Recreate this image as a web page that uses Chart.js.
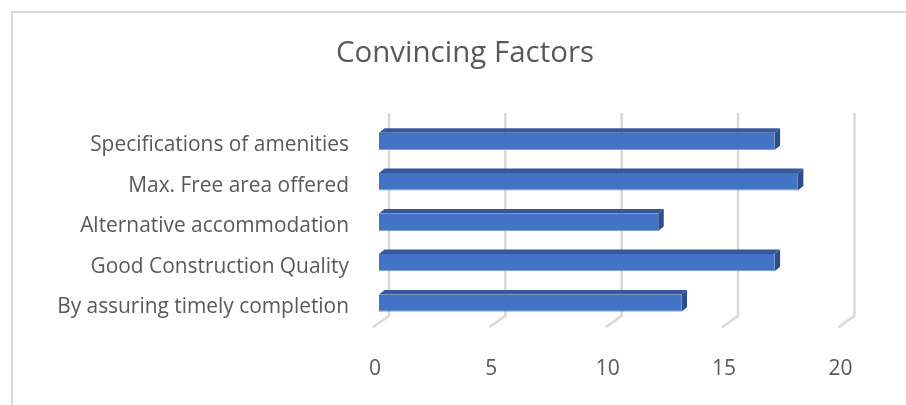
<!DOCTYPE html>
<html>
<head>
<meta charset="utf-8">
<script src="https://cdn.jsdelivr.net/npm/chart.js@4.4.1/dist/chart.umd.min.js"></script>
<style>
  html, body { margin: 0; padding: 0; background: #fff; }
  #wrap { width: 906px; height: 405px; }
</style>
</head>
<body>
<div id="wrap"><canvas id="myChart" width="906" height="405"></canvas></div>
<script>
const categories = [
  "Specifications of amenities",
  "Max. Free area offered",
  "Alternative accommodation",
  "Good Construction Quality",
  "By assuring timely completion"
];
const values = [17, 18, 12, 17, 13];
const xTicks = [0, 5, 10, 15, 20];
const chartTitle = "Convincing Factors";

const textColor = "#595959";
const gridColor = "#d9d9d9";

// frame round the chart and the title
const framePlugin = {
  id: "frame",
  beforeDraw(chart) {
    const ctx = chart.ctx;
    ctx.save();
    ctx.strokeStyle = gridColor;
    ctx.lineWidth = 2;
    ctx.strokeRect(12, 12, chart.width + 10, chart.height + 10);
    ctx.fillStyle = textColor;
    ctx.font = '29.5px "Open Sans"';
    ctx.textAlign = "center";
    ctx.textBaseline = "alphabetic";
    ctx.fillText(chartTitle, 465, 62);
    ctx.restore();
  }
};

// back wall gridlines with the little floor step
const wallPlugin = {
  id: "wall",
  beforeDatasetsDraw(chart) {
    const ctx = chart.ctx;
    const sx = chart.scales.x;
    const area = chart.chartArea;
    const top = area.top - 8;
    const bottom = area.bottom - 7.5;
    ctx.save();
    ctx.strokeStyle = gridColor;
    ctx.lineWidth = 2.5;
    xTicks.forEach(v => {
      const px = sx.getPixelForValue(v) + 10;
      ctx.beginPath();
      ctx.moveTo(px, top);
      ctx.lineTo(px, bottom);
      ctx.lineTo(px - 16, bottom + 11.5);
      ctx.stroke();
    });
    ctx.restore();
  }
};

// top and side faces of the bars
const depthPlugin = {
  id: "depth",
  afterDatasetsDraw(chart) {
    const ctx = chart.ctx;
    const dx = 5.5, dy = 4.5;
    ctx.save();
    chart.getDatasetMeta(0).data.forEach(bar => {
      const p = bar.getProps(["x", "y", "base", "height"], true);
      const t = p.y - p.height / 2;
      const b = p.y + p.height / 2;
      ctx.fillStyle = "#34589b";
      ctx.beginPath();
      ctx.moveTo(p.base, t);
      ctx.lineTo(p.x, t);
      ctx.lineTo(p.x + dx, t - dy);
      ctx.lineTo(p.base + dx, t - dy);
      ctx.closePath();
      ctx.fill();
      ctx.fillStyle = "#2c4e8e";
      ctx.beginPath();
      ctx.moveTo(p.x, t);
      ctx.lineTo(p.x + dx, t - dy);
      ctx.lineTo(p.x + dx, b - dy);
      ctx.lineTo(p.x, b);
      ctx.closePath();
      ctx.fill();
    });
    ctx.restore();
  }
};

new Chart(document.getElementById("myChart").getContext("2d"), {
  type: "bar",
  data: {
    labels: categories,
    datasets: [{
      data: values,
      backgroundColor: "#4472c4",
      borderColor: "#7f9fdc",
      borderWidth: { top: 0, right: 0, bottom: 1, left: 0 },
      borderSkipped: false,
      barPercentage: 0.43,
      categoryPercentage: 1
    }]
  },
  options: {
    indexAxis: "y",
    responsive: false,
    animation: false,
    devicePixelRatio: 1,
    layout: { padding: { top: 121.1, right: 61.6, bottom: 0, left: 0 } },
    plugins: {
      legend: { display: false },
      tooltip: { enabled: false },
      title: { display: false }
    },
    scales: {
      x: {
        min: 0,
        max: 20,
        ticks: {
          stepSize: 5,
          color: textColor,
          font: { family: "Open Sans", size: 21 },
          padding: 33,
          labelOffset: -4
        },
        grid: { display: false, drawTicks: false },
        border: { display: false },
        afterFit(scale) { scale.height = 81.65; }
      },
      y: {
        ticks: {
          color: textColor,
          font: { family: "Open Sans", size: 20.9 },
          padding: 30,
          labelOffset: 4
        },
        grid: { display: false, drawTicks: false },
        border: { display: false },
        afterFit(scale) { scale.width = 379; }
      }
    }
  },
  plugins: [framePlugin, wallPlugin, depthPlugin]
});
</script>
</body>
</html>
